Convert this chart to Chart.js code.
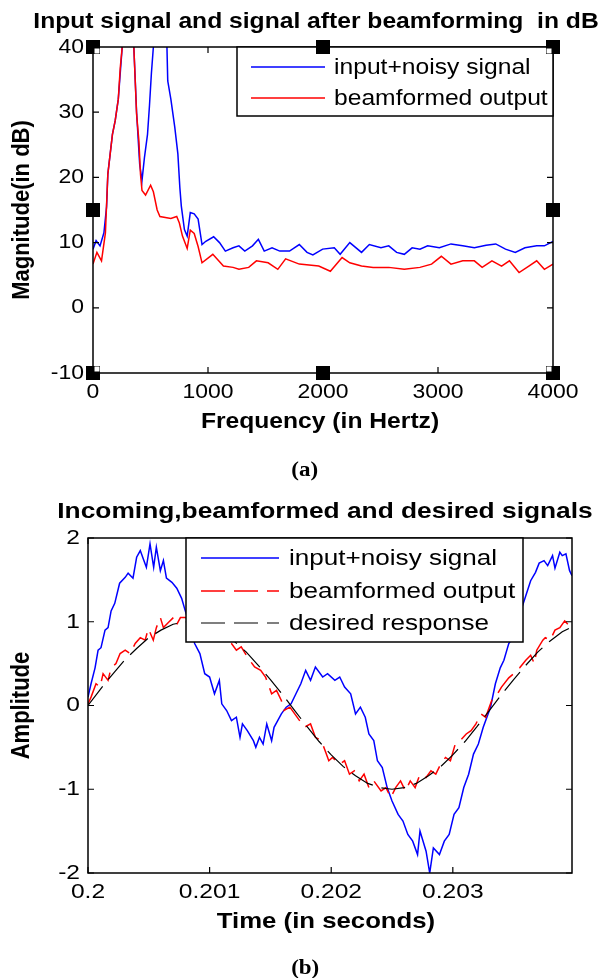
<!DOCTYPE html>
<html>
<head>
<meta charset="utf-8">
<script src="https://cdn.jsdelivr.net/npm/chart.js@4.4.1/dist/chart.umd.min.js"></script>
<style>
  html, body { margin: 0; padding: 0; background: #fff; }
  #page { position: relative; width: 610px; height: 978px; }
  .holder { position: absolute; left: 0; width: 610px; }
  .cap { position: absolute; left: 0; width: 610px; text-align: center;
         font: bold 20px "Liberation Serif", "Times New Roman", serif; color: #000; }
  .cap span { display: inline-block; transform: scaleX(1.15); }
</style>
</head>
<body>
<div id="page">
  <div class="holder" style="top:0;height:490px"><canvas id="spectrum" width="610" height="490"></canvas></div>
  <div class="cap" style="top:458px"><span>(a)</span></div>
  <div class="holder" style="top:490px;height:488px"><canvas id="timewave" width="610" height="488"></canvas></div>
  <div class="cap" style="top:956px"><span>(b)</span></div>
</div>
<script>
// ---- (a) spectrum ----
const inputFreq = [0, 27, 61, 95, 118, 129, 169, 193, 220, 254, 305, 355, 379, 406, 426, 447, 474, 491, 508, 525,
  575, 643, 650, 677, 711, 738, 755, 768, 795, 819, 846, 880, 914, 948, 981, 1049, 1100, 1151, 1218, 1269,
  1320, 1387, 1438, 1489, 1557, 1624, 1709, 1794, 1861, 1912, 1997, 2098, 2149, 2233, 2335, 2403, 2504, 2572,
  2640, 2707, 2775, 2843, 2910, 3012, 3113, 3215, 3316, 3418, 3502, 3587, 3672, 3756, 3858, 3925, 4000];
const inputDb = [9, 10.3, 9.5, 11.5, 15.5, 20.5, 26.6, 28.7, 32, 40, 48, 40, 30, 22, 19.5, 23, 26.6, 31, 36, 40,
  50, 40, 34.8, 32, 27.7, 23.6, 18.5, 15.6, 12, 11, 14.6, 14.4, 13.6, 9.7, 10.2, 10.9, 10, 8.7, 9.2, 9.5,
  8.7, 9.5, 10.5, 8.7, 9.2, 8.7, 8.7, 9.7, 8.5, 8.1, 9, 9.2, 8.2, 10, 8.5, 9.7, 9.2, 9.5,
  8.5, 8.2, 9.2, 9, 9.5, 9.2, 9.8, 9.5, 9.2, 9.6, 9.8, 9, 8.5, 9.2, 9.5, 9.5, 10.2];
const beamFreq = [0, 34, 74, 108, 129, 169, 193, 220, 237, 254, 305, 355, 365, 379, 399, 413, 426, 457, 501, 525,
  558, 582, 677, 728, 751, 778, 819, 846, 880, 914, 948, 1042, 1134, 1218, 1269, 1354, 1421, 1523, 1607, 1675,
  1794, 1963, 2064, 2166, 2233, 2335, 2436, 2572, 2707, 2843, 2944, 3029, 3113, 3215, 3316, 3384, 3469, 3553,
  3621, 3705, 3790, 3858, 3925, 4000];
const beamDb = [6.7, 8.5, 7.2, 11.5, 20.5, 26.6, 28.7, 32, 36.8, 40, 46, 40, 35.8, 29.7, 25.6, 20.5, 18, 17.3, 18.8, 17.8,
  15, 14, 13.7, 14, 13, 11, 9.1, 11.9, 11.4, 9.4, 6.9, 8.2, 6.4, 6.2, 5.9, 6.2, 7.2, 6.9, 5.9, 7.5,
  6.7, 6.4, 5.6, 7.7, 6.9, 6.4, 6.2, 6.2, 5.9, 6.2, 6.7, 7.9, 6.7, 7.2, 7.2, 6.2, 7.2, 6.4,
  7.2, 5.4, 6.4, 7.2, 5.9, 6.7];
const freqTicks = [0, 1000, 2000, 3000, 4000];
const dbTicks = [-10, 0, 10, 20, 30, 40];

// ---- (b) time signals ----
const inputTime = [0.2, 0.200025, 0.200058, 0.200083, 0.200107, 0.20014, 0.200165, 0.20019, 0.20022, 0.20026,
  0.200306, 0.20033, 0.20037, 0.2004, 0.20043, 0.200455, 0.20048, 0.20051, 0.20054, 0.200562, 0.200595, 0.20062,
  0.200645, 0.20069, 0.20073, 0.20077, 0.2008, 0.20084, 0.200877, 0.20092, 0.20096, 0.201, 0.20104, 0.20108,
  0.2011, 0.20114, 0.20118, 0.20122, 0.20125, 0.20127, 0.20131, 0.20136, 0.20138, 0.20141, 0.20144, 0.20147,
  0.20151, 0.20153, 0.20156, 0.20159, 0.20163, 0.20167, 0.20171, 0.20175, 0.20179, 0.20183, 0.20187, 0.20193,
  0.20197, 0.20203, 0.20207, 0.20211, 0.20216, 0.2022, 0.20224, 0.20228, 0.20231, 0.20235, 0.20238, 0.20242,
  0.20246, 0.2025, 0.20255, 0.20259, 0.20263, 0.20267, 0.20271, 0.20273, 0.20278, 0.20281, 0.20284, 0.20289,
  0.20293, 0.20297, 0.20301, 0.20305, 0.20309, 0.20313, 0.20317, 0.20321, 0.20325, 0.20331, 0.20335, 0.20339,
  0.20342, 0.20346, 0.20348, 0.2036, 0.20364, 0.20368, 0.20371, 0.20375, 0.20378, 0.20382, 0.20384, 0.20388,
  0.2039, 0.20393, 0.20396, 0.20398];
const inputAmp = [0.1, 0.26, 0.45, 0.66, 0.69, 0.9, 0.93, 1.13, 1.22, 1.46,
  1.53, 1.58, 1.52, 1.77, 1.85, 1.75, 1.65, 1.93, 1.65, 1.89, 1.61, 1.73,
  1.52, 1.47, 1.4, 1.28, 1.13, 0.95, 0.74, 0.62, 0.38, 0.34, 0.14, 0.3,
  0.02, -0.06, -0.18, -0.14, -0.38, -0.22, -0.3, -0.42, -0.5, -0.38, -0.46, -0.22,
  -0.42, -0.26, -0.18, -0.1, -0.02, 0.02, 0.14, 0.26, 0.42, 0.3, 0.46, 0.34,
  0.38, 0.3, 0.34, 0.22, 0.14, -0.1, -0.02, -0.14, -0.34, -0.42, -0.66, -0.74,
  -0.98, -1.14, -1.3, -1.38, -1.54, -1.62, -1.78, -1.5, -1.74, -2.0, -1.7, -1.78,
  -1.62, -1.54, -1.3, -1.22, -0.98, -0.82, -0.58, -0.46, -0.26, -0.02, 0.26, 0.45,
  0.54, 0.74, 0.78, 1.31, 1.49, 1.59, 1.7, 1.73, 1.67, 1.79, 1.64, 1.83,
  1.79, 1.81, 1.61, 1.55];
const beamTime = [0.2, 0.200025, 0.200066, 0.200099, 0.200124, 0.200165, 0.20019, 0.20023, 0.200264, 0.200306,
  0.200347, 0.200388, 0.20043, 0.20047, 0.200496, 0.200537, 0.200562, 0.200595, 0.20062, 0.200661, 0.200702,
  0.200727, 0.20076, 0.2008, 0.201, 0.20118, 0.20122, 0.20126, 0.20131, 0.20137, 0.20142, 0.20146, 0.20151,
  0.20155, 0.20159, 0.20161, 0.20166, 0.2017, 0.20174, 0.20178, 0.20183, 0.20187, 0.20192, 0.20196, 0.20198,
  0.20201, 0.20207, 0.20211, 0.20215, 0.20219, 0.20223, 0.20227, 0.20231, 0.20235, 0.20241, 0.20245, 0.20249,
  0.20253, 0.20257, 0.20261, 0.20265, 0.20269, 0.20273, 0.20278, 0.20282, 0.20286, 0.2029, 0.20294, 0.20298,
  0.20302, 0.20306, 0.20311, 0.20315, 0.20319, 0.20323, 0.20327, 0.20332, 0.20336, 0.2034, 0.20346, 0.2035,
  0.20355, 0.2036, 0.20364, 0.20367, 0.20369, 0.20374, 0.20376, 0.2038, 0.20384, 0.20388, 0.20392, 0.20394,
  0.20397];
const beamAmp = [0.02, 0.1, 0.26, 0.22, 0.38, 0.3, 0.45, 0.5, 0.62, 0.66,
  0.62, 0.74, 0.81, 0.78, 0.92, 0.78, 0.93, 1.05, 0.93, 0.99, 1.05,
  0.96, 1.05, 1.05, 0.95, 0.74, 0.66, 0.7, 0.58, 0.46, 0.42, 0.34, 0.14,
  0.18, 0.06, -0.06, -0.02, -0.1, -0.18, -0.26, -0.22, -0.38, -0.42, -0.58, -0.66,
  -0.62, -0.7, -0.66, -0.82, -0.78, -0.9, -0.82, -0.98, -0.9, -1.02, -0.98, -1.1,
  -0.98, -0.9, -1.02, -0.9, -0.98, -0.82, -0.86, -0.78, -0.82, -0.7, -0.62, -0.66,
  -0.46, -0.42, -0.34, -0.3, -0.22, -0.1, -0.14, 0.06, 0.12, 0.22, 0.33, 0.38,
  0.45, 0.54, 0.6, 0.5, 0.66, 0.78, 0.81, 0.78, 0.9, 0.93, 1.01, 0.98,
  0.92];
const desiredTime = [0.2, 0.2001, 0.2002, 0.2003, 0.2004, 0.2005, 0.2006, 0.2007, 0.2008, 0.2009,
  0.201, 0.2011, 0.2012, 0.2013, 0.2014, 0.2015, 0.2016, 0.2017, 0.2018, 0.2019,
  0.202, 0.2021, 0.2022, 0.2023, 0.2024, 0.2025, 0.2026, 0.2027, 0.2028, 0.2029,
  0.203, 0.2031, 0.2032, 0.2033, 0.2034, 0.2035, 0.2036, 0.2037, 0.2038, 0.2039, 0.20397];
const desiredAmp = [0, 0.19, 0.37, 0.54, 0.68, 0.81, 0.9, 0.97, 1.0, 0.99,
  0.95, 0.88, 0.77, 0.64, 0.48, 0.31, 0.13, -0.06, -0.25, -0.43,
  -0.59, -0.73, -0.84, -0.93, -0.98, -1.0, -0.98, -0.93, -0.84, -0.73,
  -0.59, -0.43, -0.25, -0.06, 0.13, 0.31, 0.48, 0.64, 0.77, 0.88, 0.93];
const timeTicks = [0.2, 0.201, 0.202, 0.203];
const ampTicks = [-2, -1, 0, 1, 2];

const FONT = 'Arial, "Liberation Sans", Helvetica, sans-serif';
Chart.defaults.font.family = FONT;
Chart.defaults.color = '#000';

const pairs = (xs, ys) => xs.map((x, i) => ({ x: x, y: ys[i] }));

// the source figure is a bit wider than tall, so text gets a horizontal stretch
function putText(ctx, text, x, y, font, align, stretch, rot) {
  ctx.save();
  ctx.translate(x, y);
  ctx.scale(stretch, 1);
  if (rot) ctx.rotate(rot);
  ctx.font = font;
  ctx.textAlign = align;
  ctx.textBaseline = 'middle';
  ctx.fillStyle = '#000';
  ctx.fillText(text, 0, 0);
  ctx.restore();
}

// matlab-ish box: frame, inward ticks, labels, opaque legend, title, selection handles
const matlabBox = {
  id: 'matlabBox',
  afterDatasetsDraw(chart, args, o) {
    const { ctx, chartArea: a } = chart;
    const sx = chart.scales.x, sy = chart.scales.y;
    const s = o.stretch;
    ctx.save();
    ctx.strokeStyle = '#000';
    ctx.lineWidth = 1.5;
    ctx.setLineDash([]);
    ctx.strokeRect(a.left, a.top, a.width, a.height);

    const tl = 6;
    ctx.lineWidth = 1.2;
    ctx.beginPath();
    sx.ticks.forEach(t => {
      const p = sx.getPixelForValue(t.value);
      ctx.moveTo(p, a.bottom); ctx.lineTo(p, a.bottom - tl);
      ctx.moveTo(p, a.top); ctx.lineTo(p, a.top + tl);
    });
    sy.ticks.forEach(t => {
      const p = sy.getPixelForValue(t.value);
      ctx.moveTo(a.left, p); ctx.lineTo(a.left + tl, p);
      ctx.moveTo(a.right, p); ctx.lineTo(a.right - tl, p);
    });
    ctx.stroke();

    // tick labels and axis titles
    const tf = o.tickSize + 'px ' + FONT;
    sx.ticks.forEach(t => putText(ctx, o.fmtX(t.value), sx.getPixelForValue(t.value), a.bottom + 19, tf, 'center', s));
    sy.ticks.forEach(t => putText(ctx, String(t.value), a.left - o.yLabelGap, sy.getPixelForValue(t.value), tf, 'right', s));
    putText(ctx, o.xTitle, o.xTitleX, a.bottom + 49, 'bold 22px ' + FONT, 'center', s);
    putText(ctx, o.yTitle, 22, (a.top + a.bottom) / 2, 'bold 22px ' + FONT, 'center', s, -Math.PI / 2);

    // legend
    const lg = o.legend;
    const lx = a.right - lg.fromRight - lg.width, ly = a.top;
    ctx.fillStyle = '#fff';
    ctx.fillRect(lx, ly, lg.width, lg.height);
    ctx.lineWidth = 1.5;
    ctx.strokeStyle = '#000';
    ctx.strokeRect(lx, ly, lg.width, lg.height);
    chart.data.datasets.forEach((ds, i) => {
      const y = ly + lg.rows[i];
      ctx.strokeStyle = ds.borderColor;
      ctx.lineWidth = ds.borderWidth;
      ctx.setLineDash(ds.borderDash || []);
      ctx.beginPath();
      ctx.moveTo(lx + lg.sample[0], y);
      ctx.lineTo(lx + lg.sample[1], y);
      ctx.stroke();
      ctx.setLineDash([]);
      putText(ctx, ds.label, lx + lg.textX, y + 1, lg.size + 'px ' + FONT, 'left', s);
    });

    // selection handles
    if (o.handles) {
      const mx = (a.left + a.right) / 2, my = (a.top + a.bottom) / 2;
      const pts = [[a.left, a.top, 1, 1], [mx, a.top, 0, 1], [a.right, a.top, -1, 1],
        [a.left, my, 1, 0], [a.right, my, -1, 0],
        [a.left, a.bottom, 1, -1], [mx, a.bottom, 0, -1], [a.right, a.bottom, -1, -1]];
      pts.forEach(([x, y, dx, dy]) => {
        ctx.fillStyle = '#000';
        ctx.fillRect(x - 7, y - 7, 14, 14);
        if (dx !== 0 && dy !== 0) {
          ctx.fillStyle = '#fff';
          ctx.fillRect(dx > 0 ? x + 1.5 : x - 6.5, dy > 0 ? y + 1.5 : y - 6.5, 5, 5);
        }
      });
    }

    putText(ctx, o.title, o.titleX, 22, 'bold ' + o.titleSize + 'px ' + FONT, 'center', s);
    ctx.restore();
  }
};

function axisOptions(cfg) {
  return {
    type: 'linear',
    min: cfg.min, max: cfg.max,
    grid: { display: false },
    border: { display: false },
    ticks: { display: false },
    afterBuildTicks: sc => { sc.ticks = cfg.ticks.map(v => ({ value: v })); },
    afterFit: sc => { if (cfg.width) sc.width = cfg.width; if (cfg.height) sc.height = cfg.height; }
  };
}

new Chart(document.getElementById('spectrum'), {
  type: 'line',
  data: {
    datasets: [
      { label: 'input+noisy signal', data: pairs(inputFreq, inputDb), borderColor: '#0000ff',
        borderWidth: 1.5, pointRadius: 0, order: 2 },
      { label: 'beamformed output', data: pairs(beamFreq, beamDb), borderColor: '#ff0000',
        borderWidth: 1.5, pointRadius: 0, order: 1 }
    ]
  },
  options: {
    responsive: false, animation: false,
    layout: { padding: { top: 47, right: 57, left: 0, bottom: 0 } },
    scales: {
      x: axisOptions({ min: 0, max: 4000, ticks: freqTicks, height: 117 }),
      y: axisOptions({ min: -10, max: 40, ticks: dbTicks, width: 93 })
    },
    plugins: {
      legend: { display: false },
      tooltip: { enabled: false },
      matlabBox: {
        stretch: 1.12, handles: true, tickSize: 20.5, yLabelGap: 9,
        fmtX: v => String(v),
        xTitle: 'Frequency (in Hertz)', xTitleX: 320, yTitle: 'Magnitude(in dB)',
        title: 'Input signal and signal after beamforming  in dB', titleX: 316, titleSize: 22,
        legend: { fromRight: 0, width: 316, height: 69, rows: [20, 51], sample: [14, 88], textX: 97, size: 22 }
      }
    }
  },
  plugins: [matlabBox]
});

new Chart(document.getElementById('timewave'), {
  type: 'line',
  data: {
    datasets: [
      { label: 'input+noisy signal', data: pairs(inputTime, inputAmp), borderColor: '#0000ff',
        borderWidth: 1.5, pointRadius: 0, order: 3 },
      { label: 'beamformed output', data: pairs(beamTime, beamAmp), borderColor: '#ff0000',
        borderWidth: 1.5, borderDash: [24, 9], pointRadius: 0, order: 2 },
      { label: 'desired response', data: pairs(desiredTime, desiredAmp), borderColor: '#000000',
        borderWidth: 1.2, borderDash: [24, 9], pointRadius: 0, order: 1 }
    ]
  },
  options: {
    responsive: false, animation: false,
    layout: { padding: { top: 48, right: 38, left: 0, bottom: 0 } },
    scales: {
      x: axisOptions({ min: 0.2, max: 0.20398, ticks: timeTicks, height: 105 }),
      y: axisOptions({ min: -2, max: 2, ticks: ampTicks, width: 88 })
    },
    plugins: {
      legend: { display: false },
      tooltip: { enabled: false },
      matlabBox: {
        stretch: 1.17, handles: false, tickSize: 21, yLabelGap: 8,
        fmtX: v => String(Number(v.toFixed(3))),
        xTitle: 'Time (in seconds)', xTitleX: 326, yTitle: 'Amplitude',
        title: 'Incoming,beamformed and desired signals', titleX: 325, titleSize: 22.5,
        legend: { fromRight: 49, width: 337, height: 104, rows: [20, 53, 85], sample: [15, 93], textX: 103, size: 22.3 }
      }
    }
  },
  plugins: [matlabBox]
});
</script>
</body>
</html>
